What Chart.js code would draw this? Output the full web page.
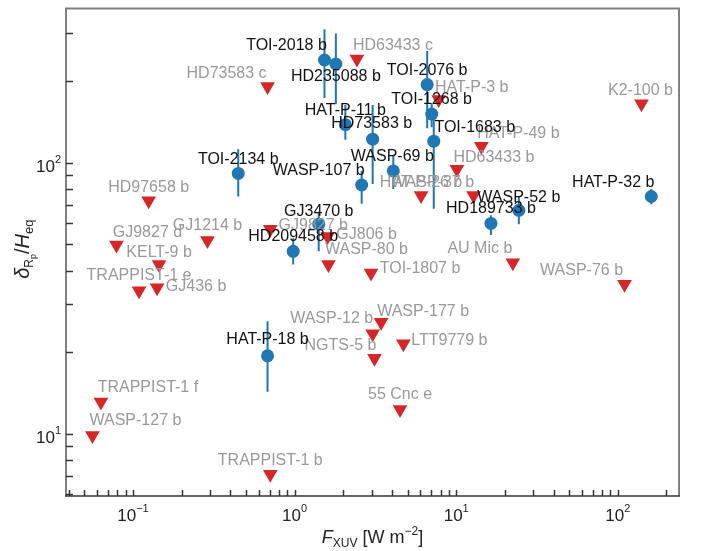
<!DOCTYPE html>
<html>
<head>
<meta charset="utf-8">
<script src="https://cdn.jsdelivr.net/npm/chart.js@4.4.0/dist/chart.umd.min.js"></script>
<style>
  html, body { margin: 0; padding: 0; background: #fff; }
  #wrap { width: 708px; height: 551px; }
</style>
</head>
<body>
<div id="wrap"><canvas id="chart" width="708" height="551"></canvas></div>
<script>
// detections (blue circles with error bars)
const detNames = ['TOI-2018 b', 'HD235088 b', 'TOI-2076 b', 'TOI-1268 b', 'TOI-1683 b', 'HAT-P-11 b',
  'HD73583 b', 'TOI-2134 b', 'WASP-107 b', 'WASP-69 b', 'HAT-P-32 b', 'WASP-52 b',
  'HD189733 b', 'GJ3470 b', 'HD209458 b', 'HAT-P-18 b'];
const detFxuv  = [1.53, 1.80, 6.61, 7.05, 7.26, 2.06, 3.04, 0.448, 2.60, 4.08, 161, 24.4, 16.4, 1.41, 0.98, 0.68];
const detDelta = [239, 231, 194, 151, 120, 138, 122, 91.2, 82.7, 93.2, 75, 66.7, 59.7, 59.3, 47.1, 19.4];
const detErrLo = [173, 164, 134, 135, 67.6, 121.5, 83.4, 75, 70.5, 80, 70.2, 59.3, 54.1, 47.1, 42.1, 14.3];
const detErrHi = [310, 299, 258, 166, 145, 163, 163, 112, 93.2, 105.7, 80, 74.8, 64, 65.9, 52.6, 26];

// upper limits (red triangles)
const limNames = ['HD63433 c', 'HD73583 c', 'HAT-P-3 b', 'K2-100 b', 'HAT-P-49 b', 'HD63433 b',
  'HAT-P-26 b', 'WASP-37 b', 'HD97658 b', 'GJ9827 d', 'GJ1214 b', 'KELT-9 b', 'TRAPPIST-1 e',
  'GJ436 b', 'GJ9827 b', 'GJ806 b', 'WASP-80 b', 'TOI-1807 b', 'AU Mic b', 'WASP-76 b',
  'WASP-177 b', 'WASP-12 b', 'NGTS-5 b', 'LTT9779 b', '55 Cnc e', 'TRAPPIST-1 f',
  'WASP-127 b', 'TRAPPIST-1 b'];
const limFxuv  = [2.43, 0.68, 7.79, 140, 14.3, 10.1, 6.06, 12.8, 0.125, 0.079, 0.289, 0.145, 0.109,
  0.141, 0.707, 1.60, 1.62, 2.97, 22.4, 110, 3.43, 3.04, 3.12, 4.71, 4.49, 0.0633, 0.0561, 0.707];
const limDelta = [241, 191, 171, 165, 115, 94.6, 75.6, 75.6, 72.4, 49.7, 51.6, 42.1, 33.7,
  34.6, 56.8, 53.4, 42.1, 39.2, 42.7, 35.6, 25.8, 23.4, 19.0, 21.5, 12.3, 13.1, 9.86, 7.10];

// axis ticks (decades carry a label)
const xDecades = [-1, 0, 1, 2];
const yDecades = [1, 2];

// label placement: offset of label centre from the marker, in px
const detLabelShift = [[-38, -14], [0, 13], [0, -14], [0, -14], [41, -14], [0, -14],
  [-1, -16], [0, -14], [-43, -14], [-1, -14], [-38, -14], [0, -13],
  [0, -15], [0, -13], [0, -15], [0, -16]];
const limLabelShift = [[36, -13], [-41, -13], [33, -12], [-1, -13], [37, -13], [37, -12],
  [0, -13], [-41, -13], [0, -13], [31, -12], [0, -15], [0, -12], [0, -15],
  [39, -1], [43, -4], [39, -2], [38, -15], [49, -4], [-33, -14], [-43, -14],
  [42, -11], [-41, -15], [-34, -13], [46, -3], [0, -15], [47, -14],
  [43, -15], [0, -14]];

const BLUE = '#1f77b4';
const RED = '#d62728';
const FONT = '"Liberation Sans", Arial, sans-serif';

function drawRich(ctx, parts, x, y) {
  // parts: [text, size, italic, rise]
  let total = 0;
  parts.forEach(p => {
    ctx.font = (p[2] ? 'italic ' : '') + p[1] + 'px ' + FONT;
    total += ctx.measureText(p[0]).width;
  });
  let cx = x - total / 2;
  ctx.textAlign = 'left';
  ctx.textBaseline = 'alphabetic';
  parts.forEach(p => {
    ctx.font = (p[2] ? 'italic ' : '') + p[1] + 'px ' + FONT;
    ctx.fillText(p[0], cx, y - p[3]);
    cx += ctx.measureText(p[0]).width;
  });
  return total;
}

const decor = {
  id: 'decor',
  beforeDatasetsDraw(chart) {
    const ctx = chart.ctx, xs = chart.scales.x, ys = chart.scales.y, a = chart.chartArea;
    ctx.save();
    ctx.beginPath();
    ctx.rect(a.left, a.top, a.right - a.left, a.bottom - a.top);
    ctx.clip();
    ctx.strokeStyle = BLUE;
    ctx.lineWidth = 2;
    detFxuv.forEach((fx, i) => {
      const px = xs.getPixelForValue(fx);
      ctx.beginPath();
      ctx.moveTo(px, ys.getPixelForValue(detErrLo[i]));
      ctx.lineTo(px, ys.getPixelForValue(detErrHi[i]));
      ctx.stroke();
    });
    ctx.restore();
  },
  afterDatasetsDraw(chart) {
    const ctx = chart.ctx, xs = chart.scales.x, ys = chart.scales.y, a = chart.chartArea;
    ctx.save();

    // point labels
    ctx.textAlign = 'center';
    ctx.textBaseline = 'middle';
    ctx.font = '16px ' + FONT;
    ctx.fillStyle = '#999999';
    limNames.forEach((n, i) => {
      ctx.fillText(n, xs.getPixelForValue(limFxuv[i]) + limLabelShift[i][0],
        ys.getPixelForValue(limDelta[i]) + limLabelShift[i][1]);
    });
    ctx.fillStyle = '#111111';
    detNames.forEach((n, i) => {
      ctx.fillText(n, xs.getPixelForValue(detFxuv[i]) + detLabelShift[i][0],
        ys.getPixelForValue(detDelta[i]) + detLabelShift[i][1]);
    });

    // frame
    ctx.lineWidth = 2;
    ctx.strokeStyle = '#808080';
    ctx.beginPath();
    ctx.moveTo(a.left, a.bottom);
    ctx.lineTo(a.left, a.top);
    ctx.lineTo(a.right, a.top);
    ctx.lineTo(a.right, a.bottom);
    ctx.stroke();
    ctx.strokeStyle = '#333333';
    ctx.lineWidth = 1.5;
    ctx.beginPath();
    ctx.moveTo(a.left - 1, a.bottom);
    ctx.lineTo(a.right + 1, a.bottom);
    ctx.stroke();

    // inward ticks
    ctx.strokeStyle = '#333333';
    ctx.lineWidth = 1.5;
    for (let e = -2; e <= 3; e++) {
      for (let m = 1; m <= 9; m++) {
        const v = m * Math.pow(10, e);
        if (v >= xs.min && v <= xs.max) {
          const px = Math.round(xs.getPixelForValue(v)) + 0.5;
          ctx.beginPath(); ctx.moveTo(px, a.bottom); ctx.lineTo(px, a.bottom - 6); ctx.stroke();
        }
        if (v >= ys.min && v <= ys.max) {
          const py = Math.round(ys.getPixelForValue(v)) + 0.5;
          ctx.beginPath(); ctx.moveTo(a.left, py); ctx.lineTo(a.left + 7, py); ctx.stroke();
        }
      }
    }

    // tick labels
    ctx.fillStyle = '#222222';
    xDecades.forEach(e => {
      const px = xs.getPixelForValue(Math.pow(10, e));
      drawRich(ctx, [['10', 17, false, 0], [e < 0 ? '\u2212' + (-e) : String(e), 11, false, 9]], px, a.bottom + 25);
    });
    yDecades.forEach(e => {
      const py = ys.getPixelForValue(Math.pow(10, e));
      ctx.font = '17px ' + FONT;
      const w1 = ctx.measureText('10').width;
      ctx.font = '11px ' + FONT;
      const w2 = ctx.measureText(String(e)).width;
      drawRich(ctx, [['10', 17, false, 0], [String(e), 11, false, 9]], a.left - 5 - (w1 + w2) / 2, py + 9);
    });

    // axis titles
    ctx.fillStyle = '#222222';
    drawRich(ctx, [['F', 18, true, 0], ['XUV', 12, false, -4], [' [W m', 18, false, 0],
      ['\u22122', 12, false, 8], [']', 18, false, 0]], (a.left + a.right) / 2, 543);
    ctx.save();
    ctx.translate(29, (a.top + a.bottom) / 2 - 3);
    ctx.rotate(-Math.PI / 2);
    drawRich(ctx, [['\u03b4', 20, true, 0], ['R', 12, false, -4], ['p', 9, false, -7],
      ['/', 20, false, 0], ['H', 20, true, 0], ['eq', 13, false, -4]], 0, 0);
    ctx.restore();

    ctx.restore();
  }
};

const detPoints = detFxuv.map((x, i) => ({ x: x, y: detDelta[i] }));
const limPoints = limFxuv.map((x, i) => ({ x: x, y: limDelta[i] }));

new Chart(document.getElementById('chart').getContext('2d'), {
  type: 'scatter',
  data: {
    datasets: [{
      label: 'detection',
      data: detPoints,
      pointStyle: 'circle',
      pointRadius: 6.5,
      backgroundColor: BLUE,
      borderWidth: 0
    }, {
      label: 'upper limit',
      data: limPoints,
      pointStyle: 'triangle',
      rotation: 180,
      pointRadius: 8.5,
      backgroundColor: RED,
      borderWidth: 0
    }]
  },
  options: {
    responsive: false,
    animation: false,
    devicePixelRatio: 1,
    layout: { padding: { left: 66, right: 29, top: 2, bottom: 55 } },
    plugins: { legend: { display: false }, tooltip: { enabled: false } },
    scales: {
      x: { type: 'logarithmic', min: 0.0385, max: 239, display: false },
      y: { type: 'logarithmic', min: 5.9, max: 370, display: false }
    }
  },
  plugins: [decor]
});
</script>
</body>
</html>
